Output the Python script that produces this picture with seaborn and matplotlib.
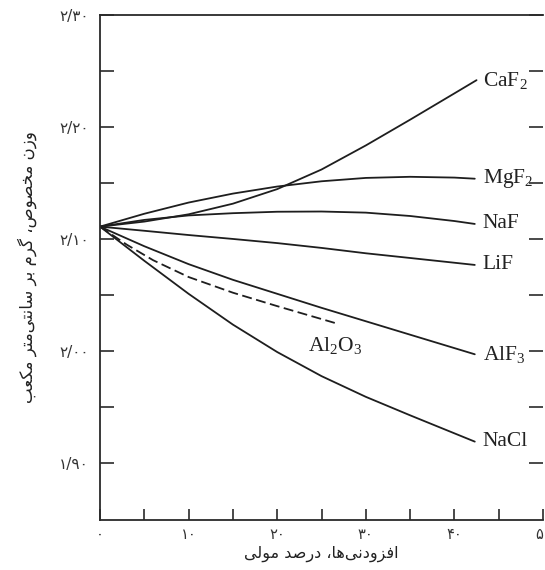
import numpy as np
import pandas as pd
import matplotlib
matplotlib.use("Agg")
import matplotlib.pyplot as plt
import seaborn as sns
from matplotlib.ticker import FixedLocator, FixedFormatter

# ---------------- data ----------------
compounds = ["CaF2", "MgF2", "NaF", "LiF", "AlF3", "Al2O3", "NaCl"]
labels = [r"CaF$_\mathrm{2}$", r"MgF$_\mathrm{2}$", "NaF", "LiF",
          r"AlF$_\mathrm{3}$", r"Al$_\mathrm{2}$O$_\mathrm{3}$", "NaCl"]

x_caf2 = [0, 5, 10, 15, 20, 25, 30, 35, 40, 42.5]
y_caf2 = [2.111, 2.1155, 2.122, 2.1315, 2.1445, 2.162, 2.1835, 2.2065, 2.230, 2.2418]
x_mgf2 = [0, 5, 10, 15, 20, 25, 30, 35, 40, 42.3]
y_mgf2 = [2.111, 2.1225, 2.1325, 2.1405, 2.1468, 2.1515, 2.1545, 2.1555, 2.1548, 2.1538]
x_naf = [0, 5, 10, 15, 20, 25, 30, 35, 40, 42.3]
y_naf = [2.111, 2.117, 2.121, 2.123, 2.1243, 2.1245, 2.1235, 2.1205, 2.116, 2.1134]
x_lif = [0, 5, 10, 15, 20, 25, 30, 35, 42.3]
y_lif = [2.111, 2.1073, 2.1035, 2.100, 2.0963, 2.092, 2.0872, 2.083, 2.0768]
x_alf3 = [0, 5, 10, 15, 20, 25, 30, 35, 42.3]
y_alf3 = [2.111, 2.0935, 2.0775, 2.0635, 2.051, 2.0385, 2.0265, 2.0145, 1.997]
x_al2o3 = [0, 3, 6, 10, 15, 20, 26.5]
y_al2o3 = [2.111, 2.095, 2.081, 2.066, 2.052, 2.040, 2.025]
x_nacl = [0, 5, 10, 15, 20, 25, 30, 35, 42.3]
y_nacl = [2.111, 2.0805, 2.051, 2.0235, 1.999, 1.9775, 1.959, 1.9425, 1.919]

xs = [x_caf2, x_mgf2, x_naf, x_lif, x_alf3, x_al2o3, x_nacl]
ys = [y_caf2, y_mgf2, y_naf, y_lif, y_alf3, y_al2o3, y_nacl]

y_ticks = [1.90, 2.00, 2.10, 2.20, 2.30]
y_minor = [1.95, 2.05, 2.15, 2.25]
y_ticklabels = ["۱/۹۰", "۲/۰۰", "۲/۱۰", "۲/۲۰", "۲/۳۰"]
x_ticks = [0, 10, 20, 30, 40, 50]
x_minor = [5, 15, 25, 35, 45]
x_ticklabels = ["۰", "۱۰", "۲۰", "۳۰", "۴۰", "۵۰"]

x_title = "افزودنی\u200cها، درصد مولی"
y_title = "وزن مخصوص، گرم بر سانتی\u200cمتر مکعب"

# ---------------- minimal Persian shaping for matplotlib ----------------
FORMS = {
    'ا': ('\uFE8D', '\uFE8E', None, None),
    'ب': ('\uFE8F', '\uFE90', '\uFE91', '\uFE92'),
    'ت': ('\uFE95', '\uFE96', '\uFE97', '\uFE98'),
    'خ': ('\uFEA5', '\uFEA6', '\uFEA7', '\uFEA8'),
    'د': ('\uFEA9', '\uFEAA', None, None),
    'ر': ('\uFEAD', '\uFEAE', None, None),
    'ز': ('\uFEAF', '\uFEB0', None, None),
    'س': ('\uFEB1', '\uFEB2', '\uFEB3', '\uFEB4'),
    'ص': ('\uFEB9', '\uFEBA', '\uFEBB', '\uFEBC'),
    'ع': ('\uFEC9', '\uFECA', '\uFECB', '\uFECC'),
    'ف': ('\uFED1', '\uFED2', '\uFED3', '\uFED4'),
    'ل': ('\uFEDD', '\uFEDE', '\uFEDF', '\uFEE0'),
    'م': ('\uFEE1', '\uFEE2', '\uFEE3', '\uFEE4'),
    'ن': ('\uFEE5', '\uFEE6', '\uFEE7', '\uFEE8'),
    'ه': ('\uFEE9', '\uFEEA', '\uFEEB', '\uFEEC'),
    'و': ('\uFEED', '\uFEEE', None, None),
    'ک': ('\uFB8E', '\uFB8F', '\uFB90', '\uFB91'),
    'گ': ('\uFB92', '\uFB93', '\uFB94', '\uFB95'),
    'ی': ('\uFBFC', '\uFBFD', '\uFBFE', '\uFBFF'),
}


def shape_rtl(s):
    chars = list(s)
    out = []

    def dual(c):
        return c in FORMS and FORMS[c][2] is not None

    for i, c in enumerate(chars):
        if c == '\u200c':
            continue
        if c not in FORMS:
            out.append(c)
            continue
        prev = chars[i - 1] if i > 0 else None
        nxt = chars[i + 1] if i + 1 < len(chars) else None
        jp = prev is not None and dual(prev)
        jn = dual(c) and nxt is not None and nxt in FORMS
        iso, fin, ini, med = FORMS[c]
        if jp and jn:
            out.append(med)
        elif jp:
            out.append(fin)
        elif jn:
            out.append(ini)
        else:
            out.append(iso)
    return ''.join(reversed(out))


# ---------------- build table ----------------
rows = []
for name, xv, yv in zip(compounds, xs, ys):
    for a, b in zip(xv, yv):
        rows.append({"compound": name, "mole": a, "density": b})
df = pd.DataFrame(rows)

sns.set_theme(style="ticks")
plt.rcParams["font.family"] = ["DejaVu Sans"]
plt.rcParams["mathtext.fontset"] = "custom"
plt.rcParams["mathtext.rm"] = "Liberation Serif"
plt.rcParams["mathtext.it"] = "Liberation Serif:italic"

ink = "#1e1e1e"
fig = plt.figure(figsize=(5.45, 5.70), dpi=100)
ax = fig.add_axes([100 / 545, 50 / 570, 443 / 545, 505 / 570])

palette = {c: ink for c in compounds}
dashes = {c: "" for c in compounds}
dashes["Al2O3"] = (5.5, 2.5)
sns.lineplot(data=df, x="mole", y="density", hue="compound", style="compound",
             palette=palette, dashes=dashes, legend=False, sort=False,
             estimator=None, linewidth=1.3, ax=ax)
for ln in ax.get_lines():
    ln.set_solid_joinstyle("round")

ax.set_xlim(0, 50)
ax.set_ylim(1.849, 2.30)

# series labels
for name, lab, xv, yv in zip(compounds, labels, xs, ys):
    if name == "Al2O3":
        ax.text(xv[-1], yv[-1] - 0.02, lab, ha="center", va="center",
                fontsize=15.5, family="Liberation Serif", color="#222")
    else:
        ax.text(43.2, yv[-1], lab, ha="left", va="center",
                fontsize=15.5, family="Liberation Serif", color="#222")

# axes styling
for side in ["left", "bottom", "top"]:
    ax.spines[side].set_color("#2a2a2a")
    ax.spines[side].set_linewidth(1.3)
ax.spines["right"].set_visible(False)

ax.yaxis.set_major_locator(FixedLocator(y_ticks))
ax.yaxis.set_major_formatter(FixedFormatter(y_ticklabels))
ax.yaxis.set_minor_locator(FixedLocator(y_minor))
ax.xaxis.set_major_locator(FixedLocator(x_ticks))
ax.xaxis.set_major_formatter(FixedFormatter(x_ticklabels))
ax.xaxis.set_minor_locator(FixedLocator(x_minor))

ax.tick_params(axis="y", which="both", direction="in", length=10, width=1.2,
               left=True, right=True, labelright=False, color="#2a2a2a",
               labelsize=11, pad=8, labelcolor="#333")
ax.tick_params(axis="x", which="both", direction="in", length=8, width=1.2,
               bottom=True, top=False, color="#2a2a2a",
               labelsize=10.5, pad=5, labelcolor="#333")

ax.set_xlabel(shape_rtl(x_title), fontsize=11.5, color="#222", labelpad=3)
ax.set_ylabel(shape_rtl(y_title), fontsize=12, color="#222", labelpad=16)
ax.grid(False)

fig.savefig("out.png", dpi=100)
